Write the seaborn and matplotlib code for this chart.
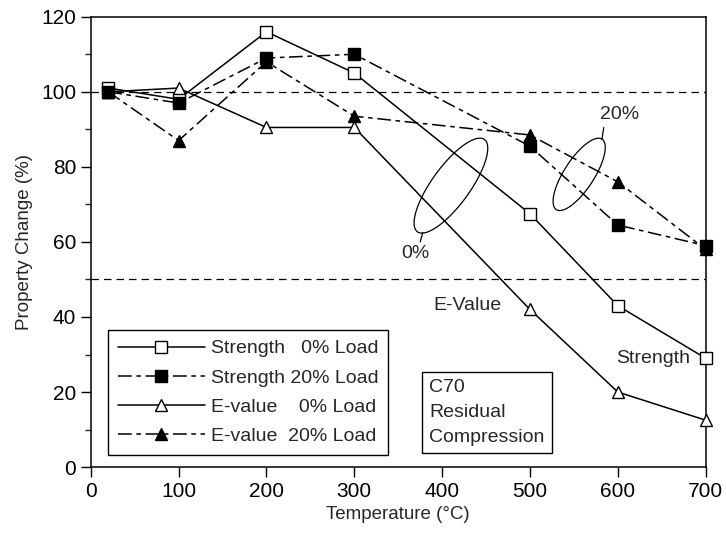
import numpy as np
import pandas as pd
import matplotlib
matplotlib.use("Agg")
import matplotlib.pyplot as plt
import seaborn as sns

# temperatures and residual property values (% of original)
temps = [20, 100, 200, 300, 500, 600, 700]
strength_0 = [101, 98, 116, 105, 67.5, 43, 29]
strength_20 = [100, 97, 109, 110, 85.5, 64.5, 59]
evalue_0 = [100, 101, 90.5, 90.5, 42, 20, 12.5]
evalue_20 = [100, 87, 108, 93.5, 88.5, 76, 58]

labels = ["Strength   0% Load", "Strength 20% Load", "E-value    0% Load", "E-value  20% Load"]

sns.set_style("ticks")
plt.rcParams['font.family'] = ['Liberation Sans', 'DejaVu Sans']

fig = plt.figure(figsize=(7.26, 5.4), dpi=100)
ax = fig.add_axes([0.125, 0.135, 0.847, 0.834])

solid = '-'
dashdot = (0, (9, 3, 3, 3))

series = [
    (strength_0, 's', 'white', solid, labels[0]),
    (strength_20, 's', 'black', dashdot, labels[1]),
    (evalue_0, '^', 'white', solid, labels[2]),
    (evalue_20, '^', 'black', dashdot, labels[3]),
]

for vals, mk, fc, ls, lab in series:
    df = pd.DataFrame({'T': temps, 'P': vals})
    sns.lineplot(data=df, x='T', y='P', ax=ax, color='black', linewidth=1.1,
                 linestyle=ls, marker=mk, markersize=9, markerfacecolor=fc,
                 markeredgecolor='black', markeredgewidth=1.0, label=lab,
                 zorder=3, clip_on=False)

# reference lines at 100% and 50%
ax.axhline(100, color='black', linestyle=(0, (6, 4)), linewidth=0.9, zorder=1)
ax.axhline(50, color='black', linestyle=(0, (6, 4)), linewidth=0.9, zorder=1)

ax.set_xlim(0, 700)
ax.set_ylim(0, 120)
ax.set_xticks(range(0, 701, 100))
ax.set_yticks(range(0, 121, 20))
ax.set_yticks(range(10, 120, 20), minor=True)
ax.tick_params(axis='both', which='major', labelsize=15, length=7, width=1, direction='out', colors='black')
ax.tick_params(axis='y', which='minor', length=4, width=1, direction='out')
for sp in ax.spines.values():
    sp.set_color('black')
    sp.set_linewidth(1.1)

ax.set_xlabel("Temperature (\u00b0C)", fontsize=13.5, labelpad=4)
ax.set_ylabel("Property Change (%)", fontsize=13.5, labelpad=6)


# tilted ellipses marking the load groups (drawn in screen-like units)
def draw_ellipse(cx, cy, a, b, ang):
    sx, sy = 615 / 700, 450 / 120
    t = np.linspace(0, 2 * np.pi, 200)
    th = np.radians(ang)
    px = a * np.cos(t) * np.cos(th) - b * np.sin(t) * np.sin(th)
    py = a * np.cos(t) * np.sin(th) + b * np.sin(t) * np.cos(th)
    ax.plot(cx + px / sx, cy + py / sy, color='black', linewidth=0.9, zorder=4)


draw_ellipse(410, 75, 57, 19, 54)
draw_ellipse(556, 78, 42, 15, 57)
ax.plot([378, 375], [62.5, 60], color='black', linewidth=0.9)
ax.plot([582, 584], [87.5, 90.5], color='black', linewidth=0.9)
ax.text(370, 57, "0%", fontsize=14, ha='center', va='center')
ax.text(602, 94, "20%", fontsize=14, ha='center', va='center')

ax.text(429, 43, "E-Value", fontsize=14, ha='center', va='center')
ax.text(640, 29, "Strength", fontsize=14, ha='center', va='center')

ax.text(385, 5.6, "C70\nResidual\nCompression", fontsize=14, ha='left', va='bottom',
        linespacing=1.6,
        bbox=dict(boxstyle='square,pad=0.38', facecolor='white', edgecolor='black', linewidth=1))

leg = ax.legend(loc='lower left', bbox_to_anchor=(0.028, 0.027), fontsize=14,
                handlelength=4.5, frameon=True, fancybox=False, framealpha=1,
                edgecolor='black', borderpad=0.5, labelspacing=0.6, handletextpad=0.3,
                borderaxespad=0)
leg.get_frame().set_linewidth(1)

fig.savefig("out.png", dpi=100, facecolor='white')
